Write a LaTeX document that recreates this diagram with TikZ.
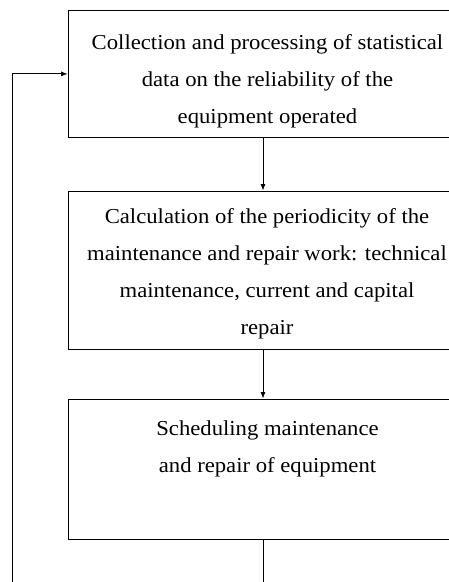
\documentclass[tikz,border=0pt]{standalone}
\usepackage{fontspec}
\setmainfont{Liberation Serif}[FakeStretch=1.065]
\usetikzlibrary{arrows.meta}
\begin{document}
\begin{tikzpicture}[x=1pt,y=1pt,
  box/.style={draw, line width=0.9pt, minimum width=399pt, inner sep=0pt},
  txt/.style={align=center, inner sep=0pt, anchor=north, font=\fontsize{21.3}{37}\selectfont},
  conn/.style={line width=0.8pt},
  arr/.style={conn, -{Latex[length=6.5pt,width=5pt]}}]
\useasboundingbox (0,0) rectangle (448,-582);
\node[box, minimum height=126.5pt] (b1) at (267.5,-73.85) {};
\node[box, minimum height=158.5pt] (b2) at (267.5,-270.25) {};
\node[box, minimum height=140pt] (b3) at (267.5,-469) {};
\node[txt] (t1) at (267.5,-23.1) {\strut Collection and processing of statistical\\data on the reliability of the\\equipment operated};
\node[txt] (t2) at (267,-197.1) {\strut Calculation of the periodicity of the\\maintenance and repair work: technical\\maintenance, current and capital\\repair};
\node[txt] (t3) at (267.5,-409.1) {\strut Scheduling maintenance\\and repair of equipment};
\coordinate (xa) at (263,0);
\coordinate (bot1) at (263,-582);
\coordinate (bot2) at (12.5,-582);
\draw[arr] (b1.south -| xa) -- (b2.north -| xa);
\draw[arr] (b2.south -| xa) -- (b3.north -| xa);
\draw[conn] (b3.south -| xa) -- (bot1);
\draw[arr] (bot2) |- (b1.west);
\end{tikzpicture}
\end{document}
